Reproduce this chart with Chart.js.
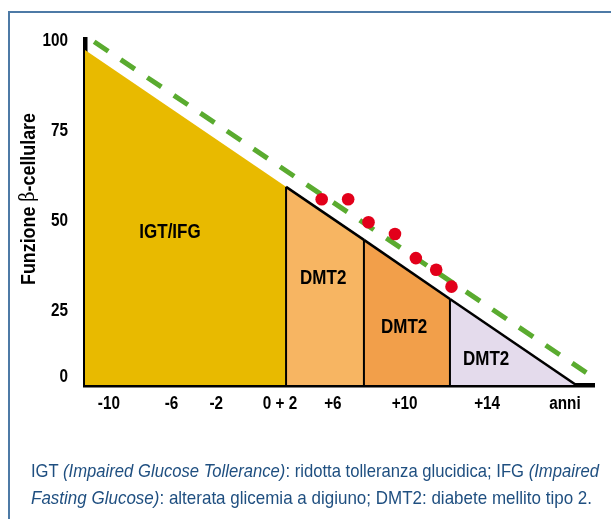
<!DOCTYPE html>
<html>
<head>
<meta charset="utf-8">
<script src="https://cdn.jsdelivr.net/npm/chart.js@4.4.1/dist/chart.umd.min.js"></script>
<style>
  html, body { margin: 0; padding: 0; background: #fff; }
  #wrap { position: relative; width: 611px; height: 519px; overflow: hidden; }
  #frame { position: absolute; left: 8px; top: 11px; right: -4px; bottom: -4px;
           border-top: 2px solid #4d7aa6; border-left: 2px solid #4d7aa6; }
  #chart { position: absolute; left: 0; top: 0; }
  .note { position: absolute; left: 31px;
          font-family: "Liberation Sans", Arial, sans-serif;
          font-size: 18.5px; line-height: 26.7px; color: #1f4f80; white-space: nowrap;
          transform-origin: 0 0; }
</style>
</head>
<body>
<div id="wrap">
  <div id="frame"></div>
  <canvas id="chart" width="611" height="519"></canvas>
  <div class="note" id="l1" style="top:458px">IGT <i>(Impaired Glucose Tollerance)</i>: ridotta tolleranza glucidica; IFG <i>(Impaired</i></div>
  <div class="note" id="l2" style="top:484.7px"><i>Fasting Glucose)</i>: alterata glicemia a digiuno; DMT2: diabete mellito tipo 2.</div>
</div>
<script>
// fasi (asse x in unità relative 0-100) e funzione beta-cellulare ai confini
const stageBreaks = [0, 39.5, 54.8, 71.7, 96.5];
const betaAtBreaks = [97.4, 57.6, 42.2, 25.0, 0];
const stageNames = ['IGT/IFG', 'DMT2', 'DMT2', 'DMT2'];

// retta tratteggiata verde
const trendX = [1.8, 98.6];
const trendY = [99.8, 3.5];

// punti rossi
const dotsX = [46.5, 51.7, 55.7, 60.9, 65.0, 69.0, 72.0];
const dotsY = [54.0, 54.0, 47.3, 43.9, 36.9, 33.5, 28.6];

// etichette assi
const xTickPos = [4.7, 17.0, 25.8, 38.3, 48.7, 62.8, 79.0, 94.3];
const xTickLabels = ['-10', '-6', '-2', '0 + 2', '+6', '+10', '+14', 'anni'];
const yTickPos = [2.3, 21.5, 47.7, 73.8, 100];
const yTickLabels = ['0', '25', '50', '75', '100'];

const stageColors = ['#e8ba00', '#f7b562', '#f29f4a', '#e4dbec'];
const labelAnchors = [[16.7, 44.3], [46.8, 31.1], [62.7, 16.9], [78.8, 7.4]];
const sans = '"Liberation Sans", Arial, sans-serif';

// il font originale è un Helvetica condensato: stringo il testo in orizzontale
let squeeze = 0.85;
const squeezePlugin = {
  id: 'squeeze',
  beforeInit(chart) {
    const ctx = chart.ctx;
    const orig = ctx.fillText.bind(ctx);
    ctx.fillText = function (t, x, y, mw) {
      this.save();
      this.translate(x, y);
      this.scale(squeeze, 1);
      if (mw) orig(t, 0, 0, mw / squeeze); else orig(t, 0, 0);
      this.restore();
    };
  }
};

const datasets = [];
for (let i = 0; i < stageNames.length; i++) {
  datasets.push({
    label: stageNames[i],
    data: [{x: stageBreaks[i], y: betaAtBreaks[i]}, {x: stageBreaks[i + 1], y: betaAtBreaks[i + 1]}],
    fill: 'origin',
    backgroundColor: stageColors[i],
    borderColor: i === 0 ? stageColors[0] : '#000',
    borderWidth: i === 0 ? 0 : 2.5,
    pointRadius: 0,
    order: 5,
  });
}
// linee verticali tra le fasi
for (let i = 1; i < stageBreaks.length - 1; i++) {
  datasets.push({
    data: [{x: stageBreaks[i], y: 0}, {x: stageBreaks[i], y: betaAtBreaks[i]}],
    borderColor: '#000',
    borderWidth: 2,
    pointRadius: 0,
    fill: false,
    order: 4,
  });
}
datasets.push({
  data: trendX.map((x, i) => ({x: x, y: trendY[i]})),
  borderColor: '#5aab2f',
  borderWidth: 5,
  borderDash: [17, 15],
  pointRadius: 0,
  fill: false,
  clip: false,
  order: 2,
});
datasets.push({
  data: dotsX.map((x, i) => ({x: x, y: dotsY[i]})),
  showLine: false,
  pointRadius: 6.3,
  pointBackgroundColor: '#e2001a',
  pointBorderWidth: 0,
  order: 1,
});

const labelsPlugin = {
  id: 'labelsPlugin',
  beforeDraw() { squeeze = 0.85; },
  afterDatasetsDraw(chart) {
    const {ctx, scales: {x, y}} = chart;
    ctx.save();
    ctx.fillStyle = '#000';
    ctx.textAlign = 'center';
    ctx.textBaseline = 'middle';
    ctx.font = 'bold 21px ' + sans;
    squeeze = 0.81;
    labelAnchors.forEach((p, i) => {
      ctx.fillText(stageNames[i], x.getPixelForValue(p[0]), y.getPixelForValue(p[1]));
    });
    // titolo asse y
    squeeze = 0.85;
    ctx.translate(29, 199);
    ctx.rotate(-Math.PI / 2);
    const parts = [['Funzione ', 'bold 21px ' + sans], ['\u03B2', '21px "DejaVu Serif", serif'], ['-cellulare', 'bold 21px ' + sans]];
    let w = 0;
    parts.forEach(p => { ctx.font = p[1]; w += ctx.measureText(p[0]).width * squeeze; });
    let cx = -w / 2;
    ctx.textAlign = 'left';
    parts.forEach(p => { ctx.font = p[1]; ctx.fillText(p[0], cx, 0); cx += ctx.measureText(p[0]).width * squeeze; });
    ctx.restore();
    squeeze = 0.85;
  }
};

new Chart(document.getElementById('chart'), {
  type: 'line',
  data: { datasets: datasets },
  options: {
    responsive: false,
    animation: false,
    events: [],
    layout: { padding: { left: 0, right: 17, top: 39, bottom: 94 } },
    plugins: { legend: { display: false }, tooltip: { enabled: false } },
    scales: {
      x: {
        type: 'linear', min: 0, max: 100,
        grid: { display: false, drawTicks: false },
        border: { display: true, color: '#000', width: 4.5 },
        afterBuildTicks: s => { s.ticks = xTickPos.map(v => ({value: v})); },
        afterFit: s => { s.height = 40; },
        ticks: {
          autoSkip: false, maxRotation: 0, padding: 8, color: '#000',
          font: { family: sans, size: 18, weight: 'bold' },
          callback: (v, i) => xTickLabels[i],
        },
      },
      y: {
        type: 'linear', min: 0, max: 100.6,
        grid: { display: false, drawTicks: false },
        border: { display: true, color: '#000', width: 4.5 },
        afterBuildTicks: s => { s.ticks = yTickPos.map(v => ({value: v})); },
        afterFit: s => { s.width = 85; },
        ticks: {
          autoSkip: false, padding: 17, color: '#000',
          font: { family: sans, size: 18, weight: 'bold' },
          callback: (v, i) => yTickLabels[i],
        },
      },
    },
  },
  plugins: [squeezePlugin, labelsPlugin],
});

// didascalia: adatto la larghezza di ogni riga a quella dell'originale
[['l1', 568], ['l2', 561]].forEach(([id, target]) => {
  const el = document.getElementById(id);
  el.style.transform = 'scaleX(' + (target / el.getBoundingClientRect().width) + ')';
});
</script>
</body>
</html>
